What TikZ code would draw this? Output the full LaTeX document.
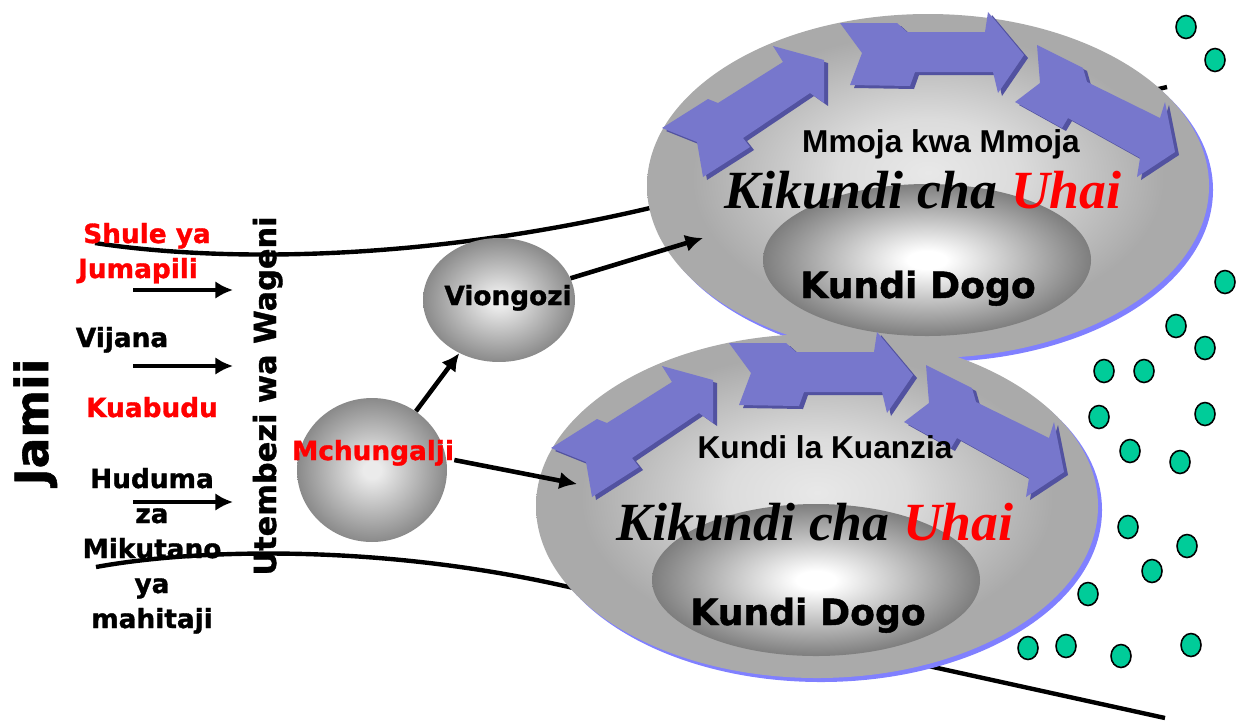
\documentclass[tikz,border=0pt]{standalone}
\usepackage{fontspec}
\newfontfamily\labelfont{DejaVu Sans}[BoldFeatures={FakeBold=1.2}]
\newfontfamily\ringfont{Liberation Sans}
\newfontfamily\titlefont{Liberation Serif}
\usetikzlibrary{arrows.meta,shapes.geometric}

\definecolor{ringhi}{HTML}{E8E8E8}
\definecolor{ringmid}{HTML}{DCDCDC}
\definecolor{ringlo}{HTML}{AAAAAA}
\definecolor{holelo}{HTML}{7E7E7E}
\definecolor{ballhi}{HTML}{EBEBEB}
\definecolor{balllo}{HTML}{8A8A8A}
\definecolor{rimblue}{HTML}{8080FF}
\definecolor{arrowblue}{HTML}{7777CC}
\definecolor{arrowdark}{HTML}{5252A0}
\definecolor{dotgreen}{HTML}{00CC99}

\pgfdeclareradialshading{ringshade}{\pgfpoint{0bp}{2bp}}{color(0bp)=(ringhi);color(8bp)=(ringmid);color(21bp)=(ringlo);color(25bp)=(ringlo);color(50bp)=(ringlo)}
\pgfdeclareradialshading{holeshade}{\pgfpoint{0bp}{0bp}}{color(0bp)=(white);color(3bp)=(white);color(25bp)=(holelo);color(50bp)=(holelo)}
\pgfdeclareradialshading{ballshade}{\pgfpoint{0bp}{0bp}}{color(0bp)=(ballhi);color(3bp)=(ballhi);color(25bp)=(balllo);color(50bp)=(balllo)}

\tikzstyle{ball}=[ellipse, inner sep=0pt, shade, shading=ballshade]
\tikzstyle{lbl}=[font=\labelfont\bfseries\fontsize{15pt}{18pt}\selectfont, inner sep=0pt]
\tikzstyle{ringtxt}=[font=\ringfont\bfseries\fontsize{18pt}{22pt}\selectfont, inner sep=0pt]
\tikzstyle{titletxt}=[font=\titlefont\bfseries\itshape\fontsize{30.6pt}{34pt}\selectfont, inner sep=0pt]
\tikzstyle{dogotxt}=[font=\labelfont\bfseries\fontsize{20.6pt}{24pt}\selectfont, inner sep=0pt]
\tikzstyle{conn}=[line width=2.6pt, -{Latex[length=10pt,width=10pt]}]
\tikzstyle{road}=[line width=2.5pt]
\tikzstyle{person}=[ellipse, draw, line width=0.9pt, fill=dotgreen, minimum width=0.4cm, minimum height=0.46cm, inner sep=0pt]

\newcommand{\blockarrow}[1]{%
  \fill[arrowdark, shift={(4,3)}] #1 -- cycle;
  \fill[arrowblue] #1 -- cycle;}

\newcommand{\lifering}[1]{%
\begin{scope}[shift={#1}]
  \fill[rimblue] (932,190) ellipse [x radius=281, y radius=172];
  \shade[shading=ringshade] (928,186) ellipse [x radius=281, y radius=172];
  \shade[shading=holeshade] (927,260) ellipse [x radius=164, y radius=76];
  \blockarrow{(662,128) -- (708,99) -- (718,103) -- (783,62) -- (773,46) -- (824,60) -- (824,103) -- (810,93) -- (743,138) -- (750,147) -- (703,177) -- (697,142)}
  \blockarrow{(840,23) -- (897,23) -- (907,32) -- (985,32) -- (988,12) -- (1024,55) -- (998,93) -- (993,72) -- (915,72) -- (910,86) -- (850,85) -- (862,53)}
  \blockarrow{(1037,45) -- (1083,68) -- (1087,82) -- (1160,118) -- (1165,102) -- (1175,152) -- (1137,177) -- (1140,158) -- (1068,118) -- (1062,128) -- (1015,102) -- (1040,83)}
\end{scope}}

\begin{document}
\begin{tikzpicture}[x=0.02cm, y=-0.02cm]
\useasboundingbox (0,0) rectangle (1239,721);

% the two roads
\coordinate (roadA) at (95,243);
\coordinate (roadAend) at (1167,87);
\coordinate (roadB) at (96,567);
\coordinate (roadBend) at (1165,718);
\draw[road] (roadA) .. controls (220,262) and (420,262) .. (650,208) -- (roadAend);
\draw[road] (roadB) .. controls (200,548) and (380,545) .. (560,585) -- (roadBend);

% rings
\lifering{(0,0)}
\lifering{(-111,320)}

\node[ringtxt, anchor=base] (moja) at (941,152) {Mmoja kwa Mmoja};
\node[titletxt, anchor=base] (uhaiA) at (923,208) {Kikundi cha \textcolor{red}{Uhai}};
\node[dogotxt, anchor=base] (dogoA) at (918,298) {Kundi Dogo};
\node[ringtxt, anchor=base] (kuanzia) at (825,458) {Kundi la Kuanzia};
\node[titletxt, anchor=base] (uhaiB) at (815,540) {Kikundi cha \textcolor{red}{Uhai}};
\node[dogotxt, anchor=base] (dogoB) at (808,625) {Kundi Dogo};

% left side
\node[lbl, rotate=90, anchor=base, font=\labelfont\bfseries\fontsize{26pt}{30pt}\selectfont] (jamii) at (48,422) {Jamii};
\node[lbl, rotate=90, anchor=base, font=\labelfont\bfseries\fontsize{17.3pt}{20pt}\selectfont] (wageni) at (276,396) {Utembezi wa Wageni};
\node[lbl, red, anchor=base] (shule) at (147,243) {Shule ya};
\node[lbl, red, anchor=base] (jumapili) at (138,278) {Jumapili};
\node[lbl, anchor=base] (vijana) at (122,347) {Vijana};
\node[lbl, red, anchor=base] (kuabudu) at (152,417) {Kuabudu};
\foreach \w/\y in {Huduma/488, za/523, Mikutano/558, ya/593, mahitaji/628}
  \node[lbl, anchor=base] (h\y) at (152,\y) {\w};

\foreach \y in {290,366,502}{
  \coordinate (in\y) at (133,\y);
  \coordinate (out\y) at (233,\y);
  \draw[conn] (in\y) -- (out\y);
}

% leaders
\node[ball, minimum width=3.04cm, minimum height=2.48cm] (vio) at (499,300) {};
\node[lbl, anchor=base] (viotxt) at (508,305) {Viongozi};
\node[ball, minimum width=3cm, minimum height=2.88cm] (mch) at (372,470) {};
\node[lbl, red, anchor=base] (mchtxt) at (373,460) {Mchungalji};
\coordinate (ringA) at (703,238);
\coordinate (ringB) at (577,484);
\draw[conn] (mch) -- (vio);
\draw[conn] (vio) -- (ringA);
\draw[conn] (mchtxt.base east) -- (ringB);

% people outside
\foreach \x/\y [count=\i] in {1186/27, 1215/60, 1225/282, 1176/326, 1205/348, 1104/371, 1144/371, 1099/417, 1205/414, 1130/451, 1180/462, 1128/527, 1187/546, 1152/571, 1088/594, 1028/648, 1066/646, 1121/656, 1191/645}
  \node[person] (p\i) at (\x,\y) {};
\end{tikzpicture}
\end{document}
